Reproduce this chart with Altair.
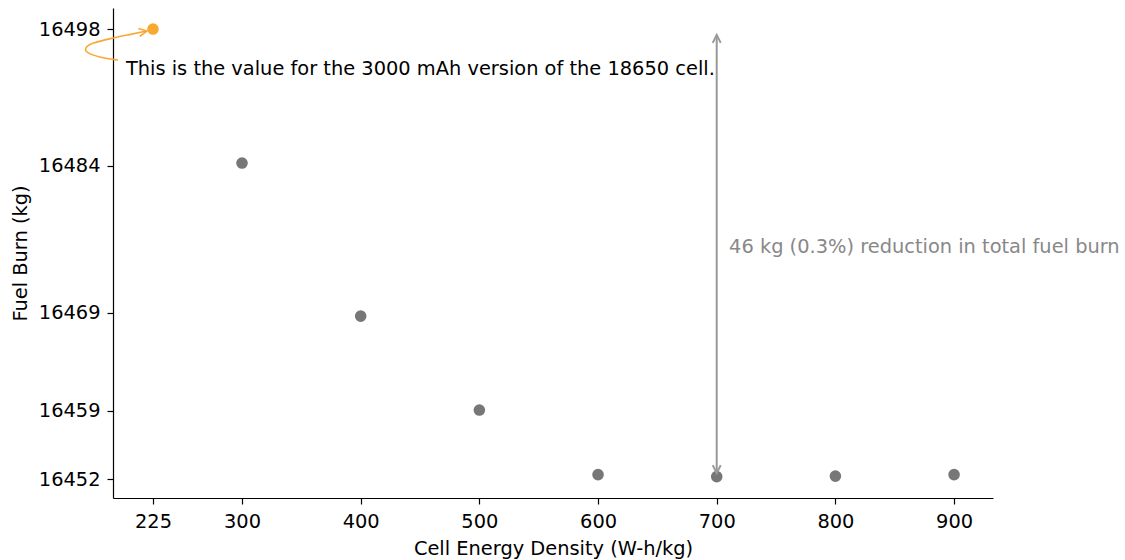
import altair as alt
import pandas as pd

# ---- data ----
density = [300, 400, 500, 600, 700, 800, 900]
fuel_burn = [16484.3, 16468.65, 16459.05, 16452.45, 16452.25, 16452.3, 16452.45]
base_density = [225]
base_fuel = [16498.0]

x_ticks = [225, 300, 400, 500, 600, 700, 800, 900]
y_ticks = [16452, 16459, 16469, 16484, 16498]

# annotation geometry (data units)
curve_x = [195.5, 180.3, 169.0, 167.0, 173.5, 188.8, 205.6, 219.9]
curve_y = [16494.83, 16495.09, 16495.55, 16496.06, 16496.57, 16497.03, 16497.44, 16497.80]
note_text = ["This is the value for the 3000 mAh version of the 18650 cell."]
note_x = [202.2]
note_y = [16493.9]

span_x = [700]
span_top = [16497.4]
span_bottom = [16452.6]
span_text = ["46 kg (0.3%) reduction in total fuel burn"]
span_text_x = [710.4]
span_text_y = [16475.7]

ORANGE = "#f9a832"
GRAY = "#777777"
FONT = "DejaVu Sans"
FS = 19.4

xs = alt.Scale(domain=[191.3, 932.8], nice=False, zero=False)
ys = alt.Scale(domain=[16450.06, 16500.15], nice=False, zero=False)

pts = pd.DataFrame({"x": density, "y": fuel_burn})
base = pd.DataFrame({"x": base_density, "y": base_fuel})
curve = pd.DataFrame({"x": curve_x, "y": curve_y, "o": list(range(len(curve_x)))})

gray_pts = alt.Chart(pts).mark_circle(size=135, color=GRAY, opacity=1).encode(
    x=alt.X("x:Q", scale=xs, title="Cell Energy Density (W-h/kg)",
            axis=alt.Axis(values=x_ticks, format="d", grid=False, tickSize=6,
                          labelPadding=8, titlePadding=9, labelFlush=False)),
    y=alt.Y("y:Q", scale=ys, title="Fuel Burn (kg)",
            axis=alt.Axis(values=y_ticks, format="d", grid=False, tickSize=6,
                          labelPadding=7, titlePadding=8)),
)

orange_pt = alt.Chart(base).mark_circle(size=135, color=ORANGE, opacity=1).encode(
    x="x:Q", y="y:Q"
)

curve_line = alt.Chart(curve).mark_line(color=ORANGE, strokeWidth=1.6, interpolate="basis").encode(
    x="x:Q", y="y:Q", order="o:Q"
)

curve_head = alt.Chart(pd.DataFrame({"x": [curve_x[-1]], "y": [curve_y[-1]]})).mark_point(
    shape="M -1 -0.5 L 0 0 L -1 0.5", filled=False, color=ORANGE, strokeWidth=1.6,
    size=256, angle=350, opacity=1
).encode(x="x:Q", y="y:Q")

note = alt.Chart(pd.DataFrame({"x": note_x, "y": note_y, "t": note_text})).mark_text(
    align="left", baseline="middle", font=FONT, fontSize=FS, color="black"
).encode(x="x:Q", y="y:Q", text="t:N")

span_df = pd.DataFrame({"x": span_x, "y": span_top, "y2": span_bottom})
span_rule = alt.Chart(span_df).mark_rule(color="#999999", strokeWidth=2).encode(
    x="x:Q", y="y:Q", y2="y2:Q"
)
head_top = alt.Chart(span_df).mark_point(
    shape="M -0.5 1 L 0 0 L 0.5 1", filled=False, color="#999999", strokeWidth=2,
    size=256, opacity=1
).encode(x="x:Q", y="y:Q")
head_bot = alt.Chart(pd.DataFrame({"x": span_x, "y": span_bottom})).mark_point(
    shape="M -0.5 -1 L 0 0 L 0.5 -1", filled=False, color="#999999", strokeWidth=2,
    size=256, opacity=1
).encode(x="x:Q", y="y:Q")
span_label = alt.Chart(pd.DataFrame({"x": span_text_x, "y": span_text_y, "t": span_text})).mark_text(
    align="left", baseline="middle", font=FONT, fontSize=FS, color="#888888"
).encode(x="x:Q", y="y:Q", text="t:N")

chart = alt.layer(
    gray_pts, span_rule, head_top, head_bot, span_label,
    curve_line, curve_head, orange_pt, note
).properties(
    width=880, height=490,
    autosize=alt.AutoSizeParams(type="none"),
    padding={"left": 113, "top": 8, "right": 132, "bottom": 62},
).configure_view(stroke=None).configure_axis(
    domainColor="black", tickColor="black", labelColor="black", titleColor="black",
    labelFont=FONT, titleFont=FONT, labelFontSize=FS, titleFontSize=FS,
    titleFontWeight="normal", domainWidth=1.2, tickWidth=1.2
)

chart.save("out.html", embed_options={"renderer": "svg", "actions": False})
